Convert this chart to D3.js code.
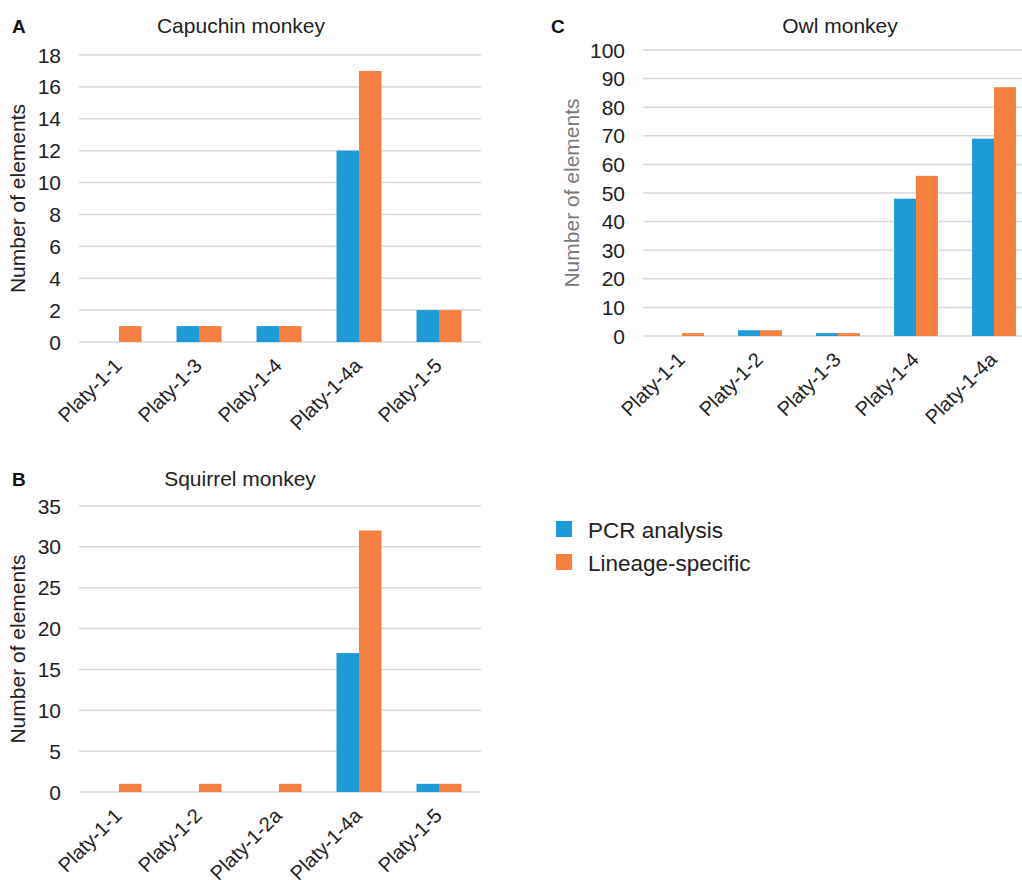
<!DOCTYPE html>
<html>
<head>
<meta charset="utf-8">
<script src="https://cdnjs.cloudflare.com/ajax/libs/d3/7.8.5/d3.min.js"></script>
<style>
  body { margin: 0; background: #fff; }
  svg { font-family: "Liberation Sans", Arial, sans-serif; }
</style>
</head>
<body>
<div id="chart"></div>
<script>
// Series names and colours
const seriesNames = ["PCR analysis", "Lineage-specific"];
const seriesColors = ["#1d9bd7", "#f58040"];

// Panel A - Capuchin monkey
const capuchinCats = ["Platy-1-1", "Platy-1-3", "Platy-1-4", "Platy-1-4a", "Platy-1-5"];
const capuchinPCR = [0, 1, 1, 12, 2];
const capuchinLineage = [1, 1, 1, 17, 2];
const capuchinTicks = [0, 2, 4, 6, 8, 10, 12, 14, 16, 18];

// Panel B - Squirrel monkey
const squirrelCats = ["Platy-1-1", "Platy-1-2", "Platy-1-2a", "Platy-1-4a", "Platy-1-5"];
const squirrelPCR = [0, 0, 0, 17, 1];
const squirrelLineage = [1, 1, 1, 32, 1];
const squirrelTicks = [0, 5, 10, 15, 20, 25, 30, 35];

// Panel C - Owl monkey
const owlCats = ["Platy-1-1", "Platy-1-2", "Platy-1-3", "Platy-1-4", "Platy-1-4a"];
const owlPCR = [0, 2, 1, 48, 69];
const owlLineage = [1, 2, 1, 56, 87];
const owlTicks = [0, 10, 20, 30, 40, 50, 60, 70, 80, 90, 100];

const svg = d3.select("#chart").append("svg")
    .attr("width", 1022)
    .attr("height", 880);

function drawPanel(opts) {
    const g = svg.append("g");

    const x = d3.scaleBand()
        .domain(opts.cats)
        .range([opts.x0, opts.x1])
        .paddingInner(0.4375)
        .paddingOuter(0.21875);
    const xs = d3.scaleBand()
        .domain([0, 1])
        .range([0, x.bandwidth()]);
    const y = d3.scaleLinear()
        .domain([0, d3.max(opts.ticks)])
        .range([opts.y0, opts.y1]);

    // gridlines
    g.selectAll("line.grid")
        .data(opts.ticks)
        .enter().append("line")
        .attr("class", "grid")
        .attr("x1", opts.x0)
        .attr("x2", opts.gridEnd)
        .attr("y1", d => y(d))
        .attr("y2", d => y(d))
        .attr("stroke", "#d9d9d9")
        .attr("stroke-width", 1.5);

    // y tick labels
    g.selectAll("text.ytick")
        .data(opts.ticks)
        .enter().append("text")
        .attr("class", "ytick")
        .attr("x", opts.x0 - 18)
        .attr("y", d => y(d))
        .attr("dy", "0.36em")
        .attr("text-anchor", "end")
        .attr("font-size", 21)
        .attr("fill", "#222")
        .text(d => d);

    // bars (zero values are not drawn)
    const rows = opts.cats.map((c, i) => ({ cat: c, vals: [opts.pcr[i], opts.lin[i]] }));
    const grp = g.selectAll("g.cat")
        .data(rows)
        .enter().append("g")
        .attr("class", "cat")
        .attr("transform", d => `translate(${x(d.cat)},0)`);
    grp.selectAll("rect")
        .data(d => d.vals.map((v, k) => ({ v, k })).filter(d => d.v > 0))
        .enter().append("rect")
        .attr("x", d => xs(d.k))
        .attr("width", xs.bandwidth())
        .attr("y", d => y(d.v))
        .attr("height", d => y(0) - y(d.v))
        .attr("fill", d => seriesColors[d.k]);

    // x labels
    g.selectAll("text.xtick")
        .data(opts.cats)
        .enter().append("text")
        .attr("class", "xtick")
        .attr("transform", d => `translate(${x(d) + x.bandwidth() / 2 + 4},${opts.y0 + 25}) rotate(-45)`)
        .attr("text-anchor", "end")
        .attr("font-size", 20)
        .attr("fill", "#222")
        .text(d => d);

    // title
    g.append("text")
        .attr("x", opts.titleX)
        .attr("y", opts.titleY)
        .attr("text-anchor", "middle")
        .attr("font-size", 21)
        .attr("fill", "#222")
        .text(opts.title);

    // panel letter
    g.append("text")
        .attr("x", opts.letterX)
        .attr("y", opts.titleY)
        .attr("font-size", 19)
        .attr("font-weight", "bold")
        .attr("fill", "#111")
        .text(opts.letter);

    // y axis label
    g.append("text")
        .attr("transform", `translate(${opts.labelX},${(opts.y0 + opts.y1) / 2}) rotate(-90)`)
        .attr("text-anchor", "middle")
        .attr("font-size", 21)
        .attr("fill", opts.labelColor)
        .text("Number of elements");
}

drawPanel({
    cats: capuchinCats, pcr: capuchinPCR, lin: capuchinLineage, ticks: capuchinTicks,
    x0: 79, x1: 479, gridEnd: 481, y0: 342, y1: 55,
    title: "Capuchin monkey", titleX: 241, titleY: 33,
    letter: "A", letterX: 12, labelX: 25, labelColor: "#222"
});

drawPanel({
    cats: squirrelCats, pcr: squirrelPCR, lin: squirrelLineage, ticks: squirrelTicks,
    x0: 79, x1: 479, gridEnd: 481, y0: 792, y1: 506,
    title: "Squirrel monkey", titleX: 240, titleY: 486,
    letter: "B", letterX: 12, labelX: 25, labelColor: "#222"
});

drawPanel({
    cats: owlCats, pcr: owlPCR, lin: owlLineage, ticks: owlTicks,
    x0: 643, x1: 1033, gridEnd: 1022, y0: 336, y1: 50,
    title: "Owl monkey", titleX: 840, titleY: 33,
    letter: "C", letterX: 551, labelX: 579, labelColor: "#7a7a7a"
});

// legend
const legend = svg.append("g")
    .selectAll("g")
    .data(seriesNames)
    .enter().append("g")
    .attr("transform", (d, i) => `translate(556,${521 + i * 33})`);
legend.append("rect")
    .attr("width", 16)
    .attr("height", 16)
    .attr("fill", (d, i) => seriesColors[i]);
legend.append("text")
    .attr("x", 32)
    .attr("y", 8)
    .attr("dy", "0.38em")
    .attr("font-size", 22.5)
    .attr("fill", "#222")
    .text(d => d);
</script>
</body>
</html>
